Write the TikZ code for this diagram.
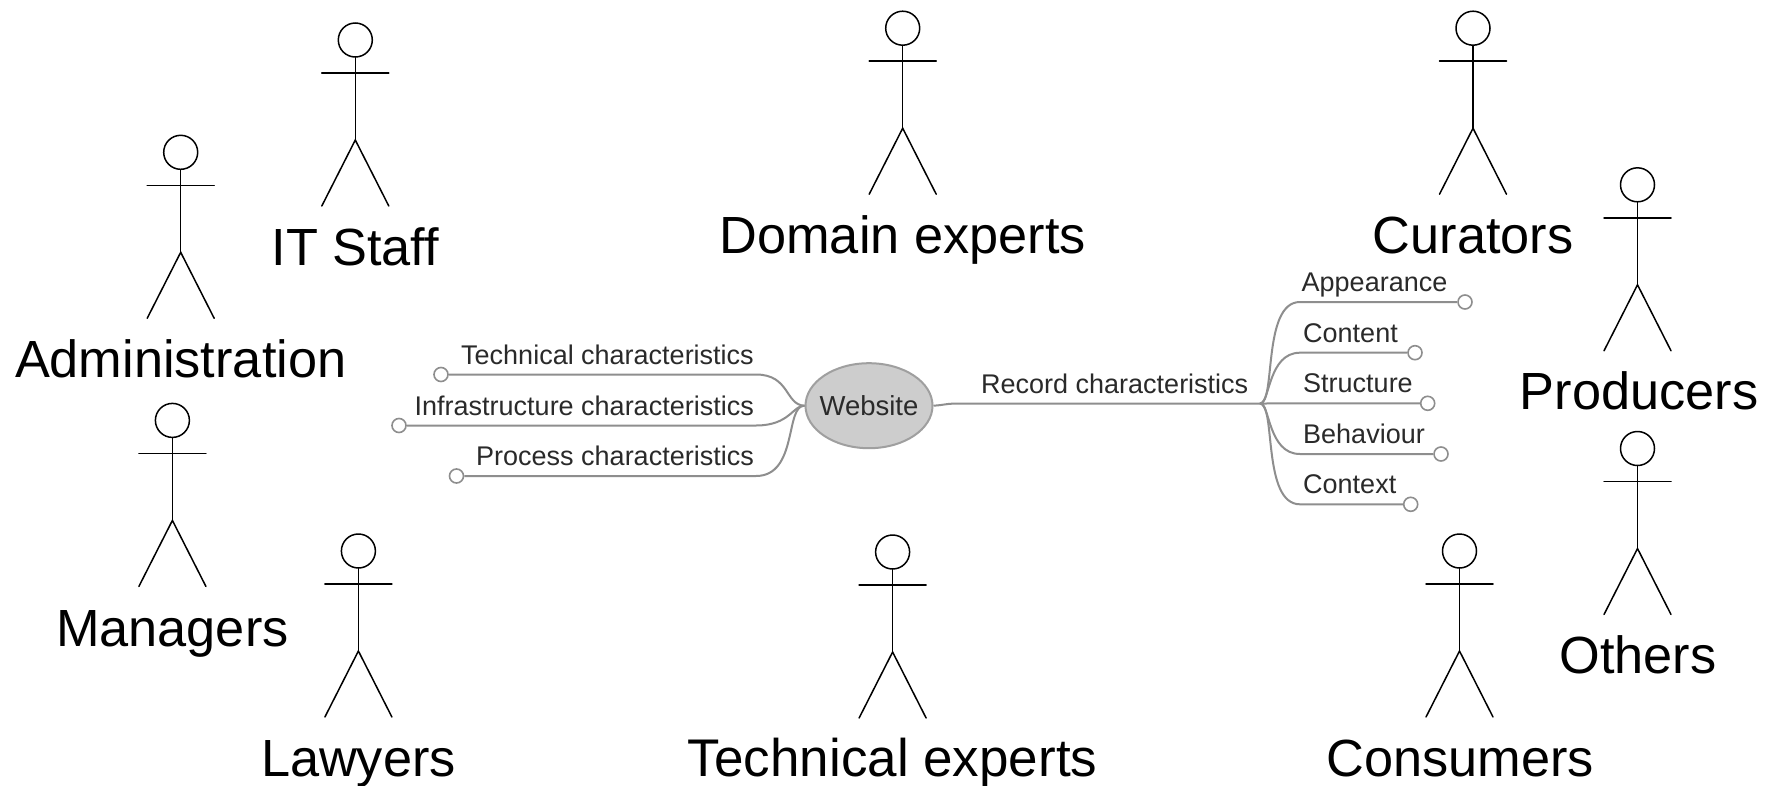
\documentclass[tikz,border=0pt]{standalone}
\usepackage{fontspec}
\setmainfont{Liberation Sans}
\usetikzlibrary{shapes.geometric}
\definecolor{mapline}{HTML}{8E8E8E}
\definecolor{mapfill}{HTML}{CDCDCD}
\definecolor{maptext}{HTML}{2A2A2A}
\tikzset{
  actorline/.style={draw=black,line width=1.5pt,line cap=round},
  actorhead/.style={circle,draw=black,line width=1.5pt,minimum size=34pt,inner sep=0pt,fill=white},
  biglabel/.style={anchor=base,inner sep=0pt,font=\fontsize{52.3}{60}\selectfont},
  maplabel/.style={inner sep=0pt,text=maptext,font=\fontsize{27}{30}\selectfont},
  mapedge/.style={draw=mapline,line width=2pt},
  leaf/.style={circle,draw=mapline,line width=1.6pt,fill=white,minimum size=14pt,inner sep=0pt},
  hub/.style={ellipse,draw=mapline!85,line width=2pt,fill=mapfill,minimum width=127pt,minimum height=85pt,inner xsep=-6pt,inner ysep=0pt,text=maptext,font=\fontsize{27.5}{30}\selectfont}
}
% \actorfig{id}{x}{y}{label}{label x}{label baseline y}
\newcommand{\actorfig}[6]{%
  \node[actorhead] (#1h) at (#2,#3) {};
  \coordinate (#1n) at (#2,#3+33);
  \coordinate (#1c) at (#2,#3+100);
  \coordinate (#1al) at (#2-33.5,#3+33);
  \coordinate (#1ar) at (#2+33.5,#3+33);
  \coordinate (#1fl) at (#2-33.5,#3+166);
  \coordinate (#1fr) at (#2+33.5,#3+166);
  \draw[actorline] (#1h.south) -- (#1c);
  \draw[actorline] (#1al) -- (#1ar);
  \draw[actorline] (#1fl) -- (#1c) -- (#1fr);
  \node[biglabel] (#1t) at (#5,#6) {#4};
}
\begin{document}
\begin{tikzpicture}[x=1pt,y=-1pt]
\useasboundingbox (0,0) rectangle (1767,785);
\fill[white] (0,0) rectangle (1767,785);
\actorfig{adm}{180.7}{152.3}{Administration}{180.7}{377}
\actorfig{its}{355.3}{40}{IT Staff}{355.3}{265}
\actorfig{dom}{902.7}{28.2}{Domain experts}{902.7}{253}
\actorfig{cur}{1473}{28.2}{Curators}{1473}{253}
\actorfig{pro}{1637.5}{184.8}{Producers}{1639}{409.5}
\actorfig{oth}{1637.5}{448.5}{Others}{1638}{673.5}
\actorfig{man}{172.4}{420.4}{Managers}{172.4}{646}
\actorfig{law}{358.4}{551}{Lawyers}{358.4}{776.5}
\actorfig{tec}{892.6}{552}{{\fontsize{53}{60}\selectfont Technical experts}}{892.6}{776.5}
\actorfig{con}{1459.5}{551}{Consumers}{1460}{776.5}
% central topic
\node[hub] (web) at (869,405.7) {Website};
% left leaves
\node[leaf] (lt) at (441,374.5) {};
\node[leaf] (li) at (399,425.5) {};
\node[leaf] (lp) at (456.5,476) {};
\draw[mapedge] (web.west) .. controls (785,405) and (790,374.5) .. (756,374.5) -- (lt);
\draw[mapedge] (web.west) .. controls (793,405) and (790,425.5) .. (756,425.5) -- (li);
\draw[mapedge] (web.west) .. controls (785,405) and (798,476) .. (756,476) -- (lp);
\node[maplabel,anchor=base east] (tlt) at (754,364.5) {Technical characteristics};
\node[maplabel,anchor=base east] (tli) at (754,415.5) {Infrastructure characteristics};
\node[maplabel,anchor=base east] (tlp) at (754,465) {Process characteristics};
% right branch
\coordinate (rj) at (1260,403.5);
\draw[mapedge] (web.east) .. controls (945,405) and (945,403.5) .. (960,403.5) -- (rj);
\node[maplabel,anchor=base west] (trc) at (981,393) {Record characteristics};
\node[leaf] (ra) at (1465,302) {};
\node[leaf] (rc) at (1415,352.7) {};
\node[leaf] (rs) at (1427.7,403.3) {};
\node[leaf] (rb) at (1441,454) {};
\node[leaf] (rx) at (1410.7,504.3) {};
\draw[mapedge] (rj) .. controls (1276,403.5) and (1262,302) .. (1300,302) -- (ra);
\draw[mapedge] (rj) .. controls (1270,403.5) and (1268,352.7) .. (1300,352.7) -- (rc);
\draw[mapedge] (rj) -- (rs);
\draw[mapedge] (rj) .. controls (1270,403.5) and (1268,454) .. (1300,454) -- (rb);
\draw[mapedge] (rj) .. controls (1276,403.5) and (1262,504.3) .. (1300,504.3) -- (rx);
\node[maplabel,anchor=base west] (tra) at (1301.5,291) {Appearance};
\node[maplabel,anchor=base west] (trn) at (1303,342) {Content};
\node[maplabel,anchor=base west] (trs) at (1303,392.5) {Structure};
\node[maplabel,anchor=base west] (trb) at (1303,443) {Behaviour};
\node[maplabel,anchor=base west] (trx) at (1303,493.5) {Context};
\end{tikzpicture}
\end{document}
